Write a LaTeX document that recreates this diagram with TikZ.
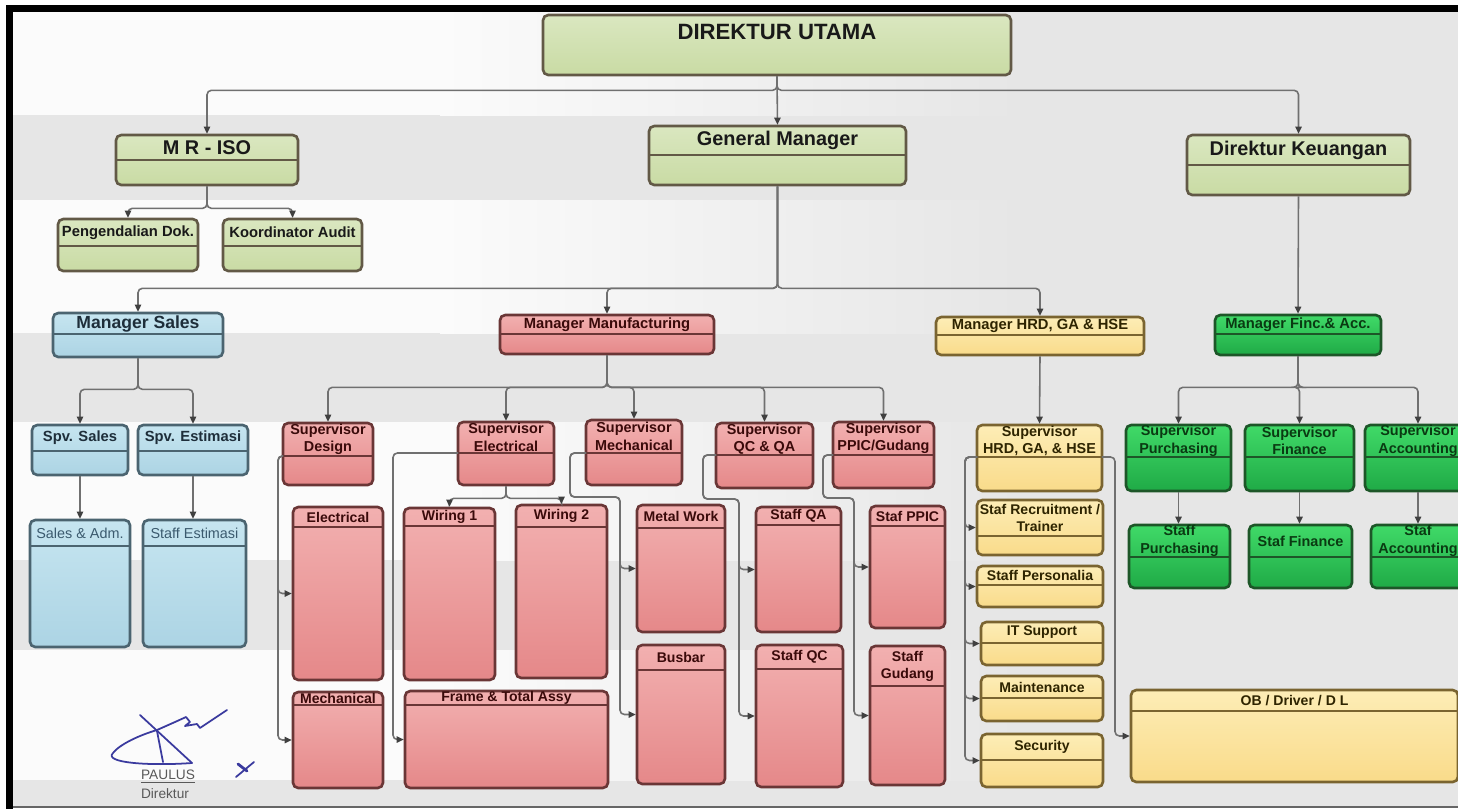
\documentclass[tikz,border=0pt]{standalone}
\usepackage{fontspec}
\setmainfont{Liberation Sans}
\usetikzlibrary{arrows.meta, fit}

\definecolor{bggray}{HTML}{E6E6E6}
\definecolor{bandwhite}{HTML}{FBFBFB}
\definecolor{olivetop}{HTML}{DAE7C0}
\definecolor{olivebot}{HTML}{C9DBA4}
\definecolor{oliveline}{HTML}{625946}
\definecolor{skytop}{HTML}{C6E5F0}
\definecolor{skybot}{HTML}{ACD4E4}
\definecolor{skyline}{HTML}{4B6470}
\definecolor{skytext}{HTML}{1E2E3A}
\definecolor{skyplain}{HTML}{3B5A6E}
\definecolor{rosetop}{HTML}{F2B0B0}
\definecolor{rosebot}{HTML}{E58889}
\definecolor{roseline}{HTML}{6A3636}
\definecolor{rosetext}{HTML}{3A0A0A}
\definecolor{sandtop}{HTML}{FDEDB6}
\definecolor{sandbot}{HTML}{F9DB8A}
\definecolor{sandline}{HTML}{7A6430}
\definecolor{sandtext}{HTML}{2E2400}
\definecolor{leaftop}{HTML}{40DA68}
\definecolor{leafbot}{HTML}{1FAA46}
\definecolor{leafline}{HTML}{1D5628}
\definecolor{leaftext}{HTML}{0A3A12}
\definecolor{connline}{HTML}{707070}
\definecolor{signblue}{HTML}{3A3A9E}

% box: colour, font style, name, x1, y1, x2, y2, header line, text
\newcommand{\orgbox}[9]{%
  \node[#1 box, fit={(#4,#5) (#6,#7)}] (#3) {};
  \draw[#1 line] (#4,#8) -- (#6,#8);
  \coordinate (#3-w) at (#4,#8);
  \coordinate (#3-e) at (#6,#8);
  \node[#1 txt, #2] at ({(#4+#6)/2},{(#5+#8)/2}) {#9};
}

\begin{document}
\begin{tikzpicture}[
  x=0.02cm, y=-0.02cm,
  olive box/.style={draw=oliveline, line width=1.5pt, rounded corners=3pt,
                    top color=olivetop, bottom color=olivebot, inner sep=0pt},
  sky box/.style={draw=skyline, line width=1.5pt, rounded corners=3pt,
                  top color=skytop, bottom color=skybot, inner sep=0pt},
  rose box/.style={draw=roseline, line width=1.5pt, rounded corners=3pt,
                   top color=rosetop, bottom color=rosebot, inner sep=0pt},
  sand box/.style={draw=sandline, line width=1.5pt, rounded corners=3pt,
                   top color=sandtop, bottom color=sandbot, inner sep=0pt},
  leaf box/.style={draw=leafline, line width=1.5pt, rounded corners=3pt,
                   top color=leaftop, bottom color=leafbot, inner sep=0pt},
  olive line/.style={draw=oliveline, line width=1pt},
  sky line/.style={draw=skyline, line width=1pt},
  rose line/.style={draw=roseline, line width=1pt},
  sand line/.style={draw=sandline, line width=1pt},
  leaf line/.style={draw=leafline, line width=1pt},
  olive txt/.style={text=black!90, align=center, inner sep=0pt},
  sky txt/.style={text=skytext, align=center, inner sep=0pt},
  rose txt/.style={text=rosetext, align=center, inner sep=0pt},
  sand txt/.style={text=sandtext, align=center, inner sep=0pt},
  leaf txt/.style={text=leaftext, align=center, inner sep=0pt},
  headText/.style={font=\bfseries\fontsize{12.6}{14}\selectfont},
  bigText/.style={font=\bfseries\fontsize{11.3}{13}\selectfont},
  midText/.style={font=\bfseries\fontsize{10}{12}\selectfont},
  mgrText/.style={font=\bfseries\fontsize{8.4}{10}\selectfont},
  supText/.style={font=\bfseries\fontsize{8.2}{10}\selectfont},
  staffText/.style={font=\bfseries\fontsize{8}{9.6}\selectfont},
  plainText/.style={font=\fontsize{8.2}{10}\selectfont, text=skyplain},
  arr/.style={-{Triangle[length=4pt, width=3.6pt, color=black!75]},
              draw=connline, line width=0.9pt, rounded corners=2.5pt},
  sig/.style={draw=signblue, line width=1pt, line cap=round, line join=round},
  sigText/.style={font=\fontsize{7.8}{9}\selectfont, text=black!65, inner sep=0pt}
]
  \useasboundingbox (0,0) rectangle (1458,809);
  \clip (0,0) rectangle (1458,809);

  %% background bands and frame
  \fill[white] (0,0) rectangle (1458,809);
  \fill[bggray] (13,12) rectangle (1458,806);
  \foreach \ya/\yb in {12/115, 200/333, 422/560, 650/780} {
    \fill[bandwhite] (13,\ya) rectangle (440,\yb);
    \shade[left color=bandwhite, right color=bggray] (440,\ya) rectangle (1020,\yb);
  }
  \fill[black] (6,5) rectangle (1458,12);
  \fill[black] (6,5) rectangle (13,809);
  \draw[black!60, line width=1pt] (13,807) -- (1458,807);

  %% top level
  \node[olive box, fit={(543,15) (1011,75)}] (du) {};
  \node[olive txt, headText] at (777,32) {DIREKTUR UTAMA};
  \orgbox{olive}{bigText}{mriso}{116}{135}{298}{185}{160}{M R - ISO}
  \orgbox{olive}{bigText}{gm}{649}{126}{906}{185}{155}{General Manager}
  \orgbox{olive}{bigText}{dk}{1187}{135}{1410}{195}{165}{Direktur Keuangan}
  \orgbox{olive}{mgrText}{peng}{58}{219}{198}{271}{246}{Pengendalian Dok.}
  \orgbox{olive}{mgrText}{koord}{223}{219}{362}{271}{246}{Koordinator Audit}

  %% managers
  \orgbox{sky}{midText}{msales}{53}{313}{223}{357}{334}{Manager Sales}
  \orgbox{rose}{mgrText}{mmanu}{500}{315}{714}{354}{334}{Manager Manufacturing}
  \orgbox{sand}{mgrText}{mhrd}{936}{317}{1144}{355}{335}{Manager HRD, GA \& HSE}
  \orgbox{leaf}{mgrText}{mfin}{1215}{315}{1381}{355}{334}{Manager Finc.\& Acc.}

  %% sales
  \orgbox{sky}{mgrText}{spvs}{32}{425}{128}{475}{451}{Spv. Sales}
  \orgbox{sky}{mgrText}{spve}{138}{425}{248}{475}{451}{Spv. Estimasi}
  \orgbox{sky}{plainText}{salesadm}{30}{520}{130}{647}{546}{Sales \& Adm.}
  \orgbox{sky}{plainText}{staffest}{143}{520}{246}{647}{546}{Staff Estimasi}

  %% manufacturing
  \orgbox{rose}{supText}{supdes}{283}{423}{373}{485}{456}{Supervisor\\Design}
  \orgbox{rose}{supText}{supel}{458}{422}{554}{485}{453}{Supervisor\\Electrical}
  \orgbox{rose}{supText}{supme}{586}{420}{682}{485}{453}{Supervisor\\Mechanical}
  \orgbox{rose}{supText}{supqc}{716}{423}{813}{488}{455}{Supervisor\\QC \& QA}
  \orgbox{rose}{supText}{suppp}{833}{422}{934}{488}{455}{Supervisor\\PPIC/Gudang}
  \orgbox{rose}{staffText}{electr}{293}{507}{383}{680}{527}{Electrical}
  \orgbox{rose}{staffText}{mechan}{293}{692}{383}{788}{705}{Mechanical}
  \orgbox{rose}{staffText}{wir1}{404}{508}{495}{680}{526}{Wiring 1}
  \orgbox{rose}{staffText}{wir2}{516}{505}{607}{678}{527}{Wiring 2}
  \orgbox{rose}{staffText}{frame}{405}{691}{608}{788}{705}{Frame \& Total Assy}
  \orgbox{rose}{staffText}{metal}{637}{505}{725}{632}{528}{Metal Work}
  \orgbox{rose}{staffText}{busbar}{637}{645}{725}{784}{670}{Busbar}
  \orgbox{rose}{staffText}{sqa}{756}{507}{841}{632}{525}{Staff QA}
  \orgbox{rose}{staffText}{sqc}{756}{645}{843}{787}{669}{Staff QC}
  \orgbox{rose}{staffText}{sppic}{870}{506}{945}{628}{526}{Staf PPIC}
  \orgbox{rose}{staffText}{sgud}{870}{646}{945}{785}{686}{Staff\\Gudang}

  %% hrd
  \orgbox{sand}{supText}{suphrd}{977}{425}{1102}{491}{457}{Supervisor\\HRD, GA, \& HSE}
  \orgbox{sand}{staffText}{recr}{977}{500}{1103}{555}{536}{Staf Recruitment /\\Trainer}
  \orgbox{sand}{staffText}{pers}{977}{566}{1103}{607}{585}{Staff Personalia}
  \orgbox{sand}{staffText}{itsup}{981}{622}{1103}{665}{643}{IT Support}
  \orgbox{sand}{staffText}{maint}{981}{676}{1103}{721}{698}{Maintenance}
  \orgbox{sand}{staffText}{secur}{981}{734}{1103}{787}{760}{Security}
  \orgbox{sand}{staffText}{obdl}{1131}{690}{1458}{782}{711}{OB / Driver / D L}

  %% finance
  \orgbox{leaf}{supText}{suppur}{1126}{425}{1231}{491}{457}{Supervisor\\Purchasing}
  \orgbox{leaf}{supText}{supfin}{1245}{425}{1354}{491}{457}{Supervisor\\Finance}
  \orgbox{leaf}{supText}{supacc}{1365}{425}{1471}{491}{457}{Supervisor\\Accounting}
  \orgbox{leaf}{supText}{stpur}{1129}{525}{1230}{588}{557}{Staff\\Purchasing}
  \orgbox{leaf}{supText}{stfin}{1249}{525}{1352}{588}{557}{Staf Finance}
  \orgbox{leaf}{supText}{stacc}{1371}{525}{1465}{588}{557}{Staf\\Accounting}

  %% connectors
  \draw[arr] (du.south) -- (gm.north);
  \draw[arr] (du.south) -- ++(0,14) -| (mriso.north);
  \draw[arr] (du.south) -- ++(0,14) -| (dk.north);
  \draw[arr] (mriso.south) -- ++(0,22) -| (peng.north);
  \draw[arr] (mriso.south) -- ++(0,22) -| (koord.north);
  \draw[arr] (gm.south) -- ++(0,102) -| (msales.north);
  \draw[arr] (gm.south) -- ++(0,102) -| (mmanu.north);
  \draw[arr] (gm.south) -- ++(0,102) -| (mhrd.north);
  \draw[arr] (dk.south) -- (mfin.north);

  \draw[arr] (msales.south) -- ++(0,31) -| (spvs.north);
  \draw[arr] (msales.south) -- ++(0,31) -| (spve.north);
  \draw[arr] (spvs.south) -- (spvs.south |- salesadm.north);
  \draw[arr] (spve.south) -- (spve.south |- staffest.north);

  \draw[arr] (mmanu.south) -- ++(0,32) -| (supdes.north);
  \draw[arr] (mmanu.south) -- ++(0,32) -| (supel.north);
  \draw[arr] (mmanu.south) -- ++(0,32) -| (supme.north);
  \draw[arr] (mmanu.south) -- ++(0,32) -| (supqc.north);
  \draw[arr] (mmanu.south) -- ++(0,32) -| (suppp.north);
  \draw[arr] (supdes-w) -- ++(-5,0) |- (electr.west);
  \draw[arr] (supdes-w) -- ++(-5,0) |- (mechan.west);
  \draw[arr] (supel-w) -- ++(-65,0) |- (frame.west);
  \draw[arr] (supel.south) -- ++(0,12) -| (wir1.north);
  \draw[arr] (supel.south) -- ++(0,12) -| (wir2.north);
  \draw[arr] (supme-w) -- ++(-16,0) -- ++(0,44) -- ++(50,0) |- (metal.west);
  \draw[arr] (supme-w) -- ++(-16,0) -- ++(0,44) -- ++(50,0) |- (busbar.west);
  \draw[arr] (supqc-w) -- ++(-13,0) -- ++(0,44) -- ++(36,0) |- (sqa.west);
  \draw[arr] (supqc-w) -- ++(-13,0) -- ++(0,44) -- ++(36,0) |- (sqc.west);
  \draw[arr] (suppp-w) -- ++(-10,0) -- ++(0,43) -- ++(31,0) |- (sppic.west);
  \draw[arr] (suppp-w) -- ++(-10,0) -- ++(0,43) -- ++(31,0) |- (sgud.west);

  \draw[arr] (mhrd.south) -- (suphrd.north);
  \draw[arr] (suphrd-w) -- ++(-12,0) |- (recr.west);
  \draw[arr] (suphrd-w) -- ++(-12,0) |- (pers.west);
  \draw[arr] (suphrd-w) -- ++(-12,0) |- (itsup.west);
  \draw[arr] (suphrd-w) -- ++(-12,0) |- (maint.west);
  \draw[arr] (suphrd-w) -- ++(-12,0) |- (secur.west);
  \draw[arr] (suphrd-e) -- ++(13,0) |- (obdl.west);

  \draw[arr] (mfin.south) -- ++(0,31) -| (suppur.north);
  \draw[arr] (mfin.south) -- ++(0,31) -| (supfin.north);
  \draw[arr] (mfin.south) -- ++(0,31) -| (supacc.north);
  \draw[arr] (suppur.south) -- (suppur.south |- stpur.north);
  \draw[arr] (supfin.south) -- (supfin.south |- stfin.north);
  \draw[arr] (supacc.south) -- (supacc.south |- stacc.north);

  %% signature
  \draw[sig] (140,715) -- (192,763);
  \draw[sig] (192,763) .. controls (150,766) and (103,763) .. (113,753)
             .. controls (120,744) and (140,735) .. (157,730)
             -- (175,722) -- (186,717) -- (190,722) -- (185,726) -- (197,724)
             -- (200,728) -- (227,710);
  \draw[sig] (157,731) -- (163,762);
  \draw[sig] (236,777) -- (254,762);
  \draw[sig, line width=1.6pt] (238,764) -- (247,771);
  \node[sigText] (paulus) at (168,777) {\underline{PAULUS}};
  \node[sigText] (dirsig) at (165,794) {Direktur};
\end{tikzpicture}
\end{document}
